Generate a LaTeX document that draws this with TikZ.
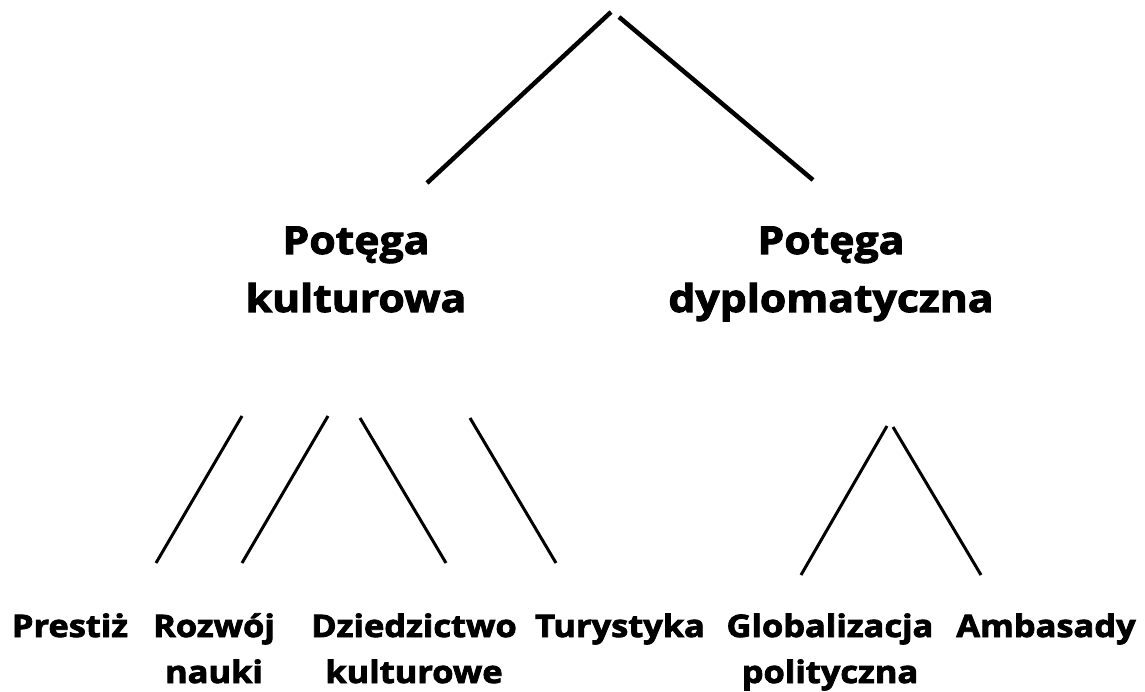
\documentclass[tikz,border=0pt]{standalone}
\usepackage{fontspec}
\setmainfont{Open Sans}[BoldFeatures={FakeStretch=1.11,FakeBold=2.6}]
\usetikzlibrary{positioning}

\tikzset{
  head/.style={font=\bfseries\fontsize{38.5}{58}\selectfont,align=center,inner sep=0pt,anchor=base},
  leaf/.style={font=\bfseries\fontsize{31}{46}\selectfont,align=center,inner sep=0pt,anchor=base},
  trunk/.style={line width=4.5pt},
  twig/.style={line width=3pt}
}

\begin{document}
\begin{tikzpicture}[x=1pt,y=-1pt]
    \useasboundingbox[fill=white] (0,0) rectangle (1145,692);
    % upper branches
    \coordinate (rootL) at (611,12);
    \coordinate (rootR) at (619,17);
    \coordinate (kultUp) at (427,183);
    \coordinate (dyplUp) at (813,180);
    \draw[trunk] (rootL) -- (kultUp);
    \draw[trunk] (rootR) -- (dyplUp);
    % second level (base = last line)
    \node[head] (kult) at (356,312) {Potęga\\kulturowa};
    \node[head] (dypl) at (831,312) {Potęga\\dyplomatyczna};
    % lower branches
    \foreach \i/\ax/\ay/\bx/\by in {
      1/242/416/156/563, 2/328/416/242/563, 3/360/418/446/563,
      4/470/418/556/563, 5/887/426/801/575, 6/893/427/981/575}
      {
        \coordinate (up\i) at (\ax,\ay);
        \coordinate (dn\i) at (\bx,\by);
        \draw[twig] (up\i) -- (dn\i);
      }
    % leaves
    \node[leaf] (prestiz) at (70,637) {Prestiż};
    \node[leaf] (nauka) at (214,683) {Rozwój\\nauki};
    \node[leaf] (dziedz) at (414,683) {Dziedzictwo\\kulturowe};
    \node[leaf] (tur) at (620,637) {Turystyka};
    \node[leaf] (glob) at (830,683) {Globalizacja\\polityczna};
    \node[leaf] (amb) at (1046,637) {Ambasady};
\end{tikzpicture}
\end{document}
